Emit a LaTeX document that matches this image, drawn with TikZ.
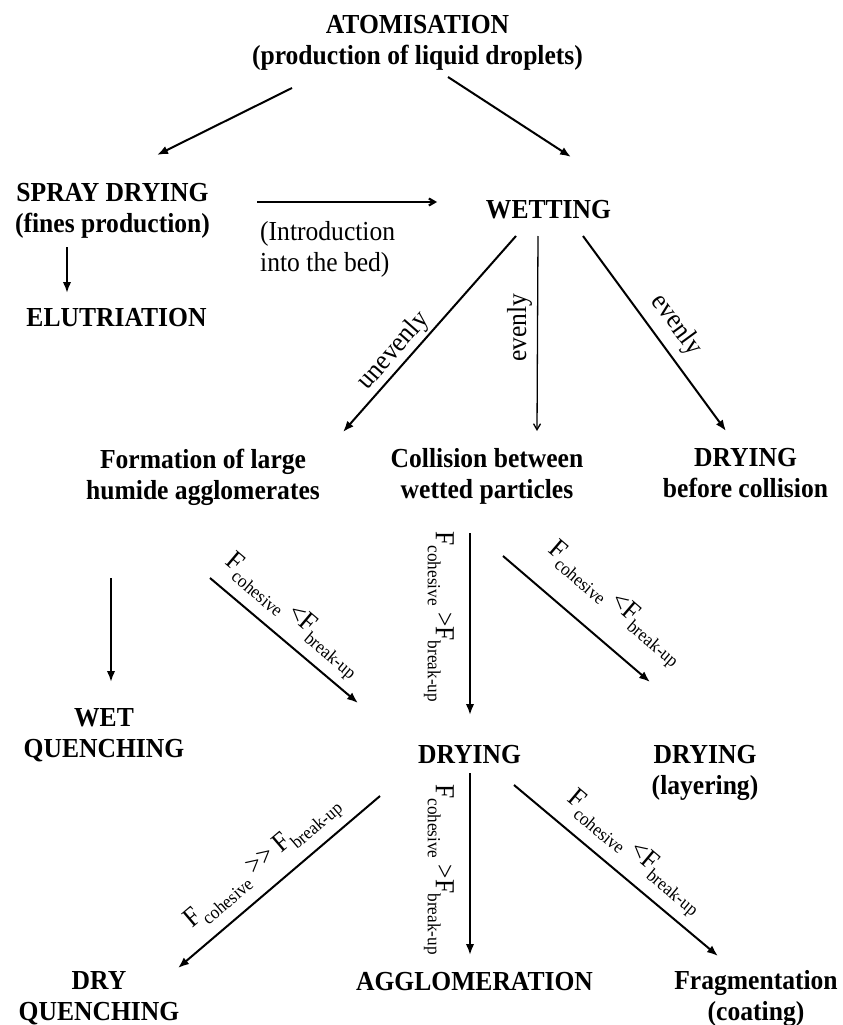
\documentclass[tikz,border=0pt]{standalone}
\usepackage{fontspec}
\setmainfont{Liberation Serif}[FakeStretch=0.93]
\usetikzlibrary{arrows.meta}

\newcommand{\subfont}{\fontsize{18.5}{19}\selectfont}
\newcommand{\force}[1]{F\raisebox{-8pt}{\subfont #1}}

\begin{document}
\begin{tikzpicture}[
  x=1pt, y=-1pt,
  stage/.style={anchor=north, align=center, inner sep=0pt,
                font=\fontsize{27.5}{31}\selectfont\bfseries},
  note/.style={font=\fontsize{27.5}{31}\selectfont},
  lbl/.style={note, sloped, above},
  arr/.style={-{Latex[length=11pt,width=8.5pt]}, line width=2pt},
  barb/.style={-{Straight Barb[length=6pt,width=7pt]}, line width=1.3pt}
]
\useasboundingbox (0,0) rectangle (843,1025);

\node[stage] (atom)   at (417.5,15)  {ATOMISATION\\(production of liquid droplets)};
\node[stage] (spray)  at (112.5,183) {SPRAY DRYING\\(fines production)};
\node[stage] (wet)    at (548.5,200) {WETTING};
\node[stage] (elut)   at (116.5,308) {ELUTRIATION};
\node[stage] (form)   at (203,449)   {Formation of large\\humide agglomerates};
\node[stage] (coll)   at (487,448)   {Collision between\\wetted particles};
\node[stage] (before) at (745.5,448) {DRYING\\before collision};
\node[stage] (wetq)   at (104,708)   {WET\\QUENCHING};
\node[stage] (dry)    at (469.5,745) {DRYING};
\node[stage] (layer)  at (705,745)   {DRYING\\(layering)};
\node[stage] (dryq)   at (99,971)    {DRY\\QUENCHING};
\node[stage] (aggl)   at (474.5,972) {AGGLOMERATION};
\node[stage] (frag)   at (756,970)   {Fragmentation\\(coating)};
\node[note, anchor=north west, align=left, inner sep=0pt] (intro) at (260,221)
  {(Introduction\\into the bed)};

% top part
\draw[arr] ([shift={(-125.5,73)}]atom.north) -- ([shift={(44.5,-28)}]spray.north);
\draw[arr] ([shift={(30.5,62)}]atom.north) -- ([shift={(22.5,-43)}]wet.north);
\draw[barb, line width=2.2pt] ([shift={(144.5,19)}]spray.north) -- ([shift={(-111.5,2)}]wet.north);
\draw[arr] ([shift={(-45.5,64)}]spray.north) -- ([shift={(-49.5,-15)}]elut.north);

% wetting
\draw[arr] ([shift={(-32.5,36)}]wet.north) --
  node[lbl, pos=.64, inner sep=2pt] {unevenly} ([shift={(140,-17)}]form.north);
\draw[barb] ([shift={(-10.5,36)}]wet.north) --
  node[note, pos=.47, rotate=90, anchor=south, inner sep=4.8pt] {evenly} ([shift={(50,-17)}]coll.north);
\draw[arr] ([shift={(34.5,36)}]wet.north) --
  node[lbl, pos=.525, inner sep=9pt] {evenly} ([shift={(-19.5,-17)}]before.north);

% collisions
\draw[arr] ([shift={(-92,129)}]form.north) -- ([shift={(7,-26)}]wetq.north);
\draw[arr] ([shift={(7,129)}]form.north) --
  node[lbl, pos=.45, inner sep=7.6pt] {\force{cohesive} <\force{break-up}} ([shift={(-111.5,-42)}]dry.north);
\draw[arr] ([shift={(-17,85)}]coll.north) --
  node[note, pos=.46, rotate=-90, anchor=north, inner sep=15pt] {\force{cohesive} >\force{break-up}} ([shift={(0.5,-30)}]dry.north);
\draw[arr] ([shift={(16,108)}]coll.north) --
  node[lbl, pos=.6, inner sep=20pt] {\force{cohesive} <\force{break-up}} ([shift={(-55,-63)}]layer.north);

% drying
\draw[arr] ([shift={(-89.5,51)}]dry.north) --
  node[lbl, pos=.5, inner sep=7.8pt] {\force{cohesive} >{}> \force{break-up}} ([shift={(79,-3)}]dryq.north);
\draw[arr] ([shift={(0.5,28)}]dry.north) --
  node[note, pos=.53, rotate=-90, anchor=north, inner sep=15pt] {\force{cohesive} >\force{break-up}} ([shift={(-4.5,-17)}]aggl.north);
\draw[arr] ([shift={(44.5,40)}]dry.north) --
  node[lbl, pos=.51, inner sep=8.6pt] {\force{cohesive} <\force{break-up}} ([shift={(-38,-14)}]frag.north);
\end{tikzpicture}
\end{document}
